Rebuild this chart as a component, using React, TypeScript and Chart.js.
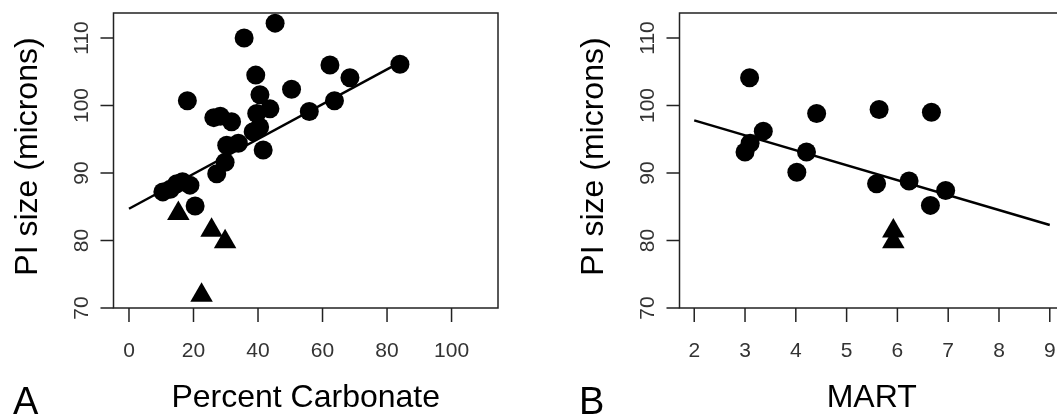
import React, { useEffect, useRef } from "react";
import { Chart, registerables } from "chart.js";

Chart.register(...registerables);

// ---------- Panel A: Percent Carbonate ----------
const carbonateCircleX = [10.5, 12.8, 14.8, 16.6, 18.9, 20.5, 18.1, 26.3, 28.3, 31.8, 27.2, 29.8, 30.3, 33.9, 38.5, 40.5, 41.6, 39.6, 43.7, 40.6, 39.3, 35.7, 45.3, 50.4, 55.9, 62.3, 63.7, 68.5, 84.0];
const carbonateCircleY = [87.2, 87.6, 88.4, 88.7, 88.2, 85.1, 100.7, 98.2, 98.4, 97.6, 89.9, 91.6, 94.1, 94.4, 96.1, 96.8, 93.4, 98.8, 99.5, 101.6, 104.5, 110.0, 112.2, 102.4, 99.1, 106.0, 100.7, 104.1, 106.1];
const carbonateTriX = [15.3, 25.6, 29.8, 22.5];
const carbonateTriY = [84.0, 81.5, 79.8, 71.9];
const carbonateFitX = [0, 84];
const carbonateFitY = [84.7, 106.4];
const carbonateTicks = [0, 20, 40, 60, 80, 100];

// ---------- Panel B: MART ----------
const martCircleX = [3.09, 3.36, 3.1, 3.0, 4.02, 4.21, 4.41, 5.64, 6.67, 5.59, 6.23, 6.95, 6.65];
const martCircleY = [104.1, 96.2, 94.4, 93.1, 90.1, 93.1, 98.8, 99.4, 99.0, 88.4, 88.8, 87.4, 85.2];
const martTriX = [5.92, 5.92];
const martTriY = [81.4, 79.8];
const martFitX = [2, 9];
const martFitY = [97.8, 82.3];
const martTicks = [2, 3, 4, 5, 6, 7, 8, 9];

// ---------- shared ----------
const sizeTicks = [70, 80, 90, 100, 110];
const yTitle = "PI size (microns)";

const FONT = '"Liberation Sans", Arial, Helvetica, sans-serif';

const rStyle = {
  id: "rStyle",
  afterDraw(chart: any, _args: any, opts: any) {
    const ctx = chart.ctx as CanvasRenderingContext2D;
    const { left, right, top, bottom } = chart.chartArea;
    const xs = chart.scales.x;
    const ys = chart.scales.y;
    ctx.save();
    ctx.strokeStyle = "#222";
    ctx.lineWidth = 1.5;
    ctx.strokeRect(left, top, right - left, bottom - top);
    ctx.beginPath();
    for (const t of opts.xTicks) {
      const px = xs.getPixelForValue(t);
      ctx.moveTo(px, bottom);
      ctx.lineTo(px, bottom + 14);
    }
    for (const t of opts.yTicks) {
      const py = ys.getPixelForValue(t);
      ctx.moveTo(left, py);
      ctx.lineTo(left - 13, py);
    }
    ctx.stroke();

    ctx.fillStyle = "#333";
    ctx.font = `21px ${FONT}`;
    ctx.textAlign = "center";
    ctx.textBaseline = "alphabetic";
    for (const t of opts.xTicks) {
      ctx.fillText(String(t), xs.getPixelForValue(t), bottom + 49);
    }
    for (const t of opts.yTicks) {
      ctx.save();
      ctx.translate(left - 25.5, ys.getPixelForValue(t));
      ctx.rotate(-Math.PI / 2);
      ctx.fillText(String(t), 0, 0);
      ctx.restore();
    }

    ctx.fillStyle = "#000";
    ctx.font = `32px ${FONT}`;
    ctx.fillText(opts.xTitle, (left + right) / 2, bottom + 99);
    ctx.save();
    ctx.translate(left - 76.5, (top + bottom) / 2 - 4);
    ctx.rotate(-Math.PI / 2);
    ctx.fillText(opts.yTitle, 0, 0);
    ctx.restore();

    ctx.font = `38px ${FONT}`;
    ctx.textAlign = "left";
    ctx.fillText(opts.letter, 13, 414);
    ctx.restore();
  },
};

type PanelProps = {
  circleX: number[];
  circleY: number[];
  triX: number[];
  triY: number[];
  fitX: number[];
  fitY: number[];
  xMin: number;
  xMax: number;
  xTicks: number[];
  xTitle: string;
  letter: string;
  offset: number;
};

function Panel(p: PanelProps) {
  const ref = useRef<HTMLCanvasElement>(null);
  useEffect(() => {
    if (!ref.current) return;
    const chart = new Chart(ref.current, {
      type: "scatter",
      data: {
        datasets: [
          {
            type: "line",
            data: p.fitX.map((x, i) => ({ x, y: p.fitY[i] })),
            borderColor: "#000",
            borderWidth: 2.5,
            pointRadius: 0,
            fill: false,
            clip: false,
          } as any,
          {
            data: p.circleX.map((x, i) => ({ x, y: p.circleY[i] })),
            pointStyle: "circle",
            pointRadius: 9.5,
            backgroundColor: "#000",
            borderColor: "#000",
            borderWidth: 0,
            clip: false,
          } as any,
          {
            data: p.triX.map((x, i) => ({ x, y: p.triY[i] })),
            pointStyle: "triangle",
            pointRadius: 13,
            backgroundColor: "#000",
            borderColor: "#000",
            borderWidth: 0,
            clip: false,
          } as any,
        ],
      },
      options: {
        animation: false,
        responsive: false,
        events: [],
        layout: { padding: { left: 113.5, right: 68, top: 13, bottom: 109 } },
        scales: {
          x: { type: "linear", min: p.xMin, max: p.xMax, display: false },
          y: { type: "linear", min: 70, max: 113.7, display: false },
        },
        plugins: {
          legend: { display: false },
          tooltip: { enabled: false },
          rStyle: {
            xTicks: p.xTicks,
            yTicks: sizeTicks,
            xTitle: p.xTitle,
            yTitle: yTitle,
            letter: p.letter,
          },
        } as any,
      },
      plugins: [rStyle],
    });
    return () => chart.destroy();
  }, []);
  return (
    <canvas
      ref={ref}
      width={566}
      height={417}
      style={{ position: "absolute", left: p.offset, top: 0, width: 566, height: 417, display: "block" }}
    />
  );
}

export default function App() {
  return (
    <div
      style={{
        position: "fixed",
        left: 0,
        top: 0,
        width: 1057,
        height: 417,
        overflow: "hidden",
        background: "#fff",
      }}
    >
      <Panel
        circleX={carbonateCircleX}
        circleY={carbonateCircleY}
        triX={carbonateTriX}
        triY={carbonateTriY}
        fitX={carbonateFitX}
        fitY={carbonateFitY}
        xMin={-4.8}
        xMax={114.4}
        xTicks={carbonateTicks}
        xTitle="Percent Carbonate"
        letter="A"
        offset={0}
      />
      <Panel
        circleX={martCircleX}
        circleY={martCircleY}
        triX={martTriX}
        triY={martTriY}
        fitX={martFitX}
        fitY={martFitY}
        xMin={1.71}
        xMax={9.28}
        xTicks={martTicks}
        xTitle="MART"
        letter="B"
        offset={566}
      />
    </div>
  );
}
